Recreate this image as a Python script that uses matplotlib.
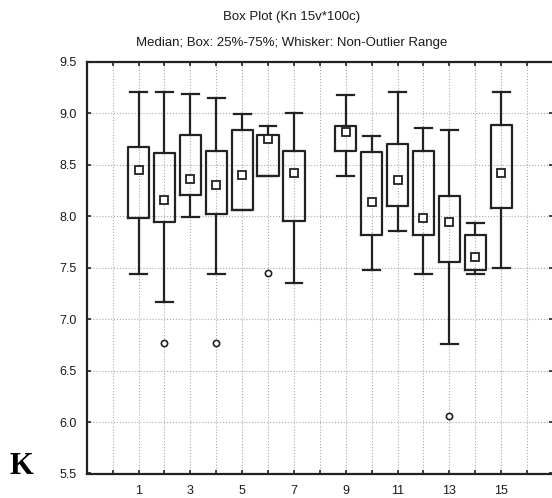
import matplotlib.pyplot as plt

plt.rcParams['font.family'] = ['Liberation Sans', 'DejaVu Sans']

positions = [1, 2, 3, 4, 5, 6, 7, 9, 10, 11, 12, 13, 14, 15]
q3 = [8.67, 8.615, 8.79, 8.635, 8.835, 8.79, 8.635, 8.875, 8.62, 8.70, 8.635, 8.195, 7.82, 8.885]
medians = [8.45, 8.155, 8.365, 8.30, 8.395, 8.745, 8.42, 8.82, 8.14, 8.355, 7.98, 7.94, 7.605, 8.42]
q1 = [7.98, 7.94, 8.205, 8.02, 8.06, 8.39, 7.95, 8.635, 7.82, 8.10, 7.82, 7.555, 7.475, 8.075]
whis_hi = [9.21, 9.21, 9.185, 9.15, 8.99, 8.875, 9.0, 9.18, 8.78, 9.21, 8.86, 8.835, 7.93, 9.21]
whis_lo = [7.435, 7.17, 7.99, 7.435, 8.06, 8.39, 7.355, 8.39, 7.475, 7.855, 7.435, 6.755, 7.435, 7.50]
outliers = [[], [6.765], [], [6.765], [], [7.45], [], [], [], [], [], [6.06], [], []]

xticks = [1, 3, 5, 7, 9, 11, 13, 15]
yticks = [5.5, 6.0, 6.5, 7.0, 7.5, 8.0, 8.5, 9.0, 9.5]

stats = []
for i in range(len(positions)):
    stats.append({'med': medians[i], 'q1': q1[i], 'q3': q3[i],
                  'whislo': whis_lo[i], 'whishi': whis_hi[i], 'fliers': outliers[i]})

fig = plt.figure(figsize=(5.52, 4.98), dpi=100)
ax = fig.add_axes([86.7 / 552, 24.5 / 498, (553 - 86.7) / 552, (473.5 - 61.7) / 498])

line_kw = dict(color='#222222', linewidth=1.6)
ax.bxp(stats, positions=positions, widths=0.82, capwidths=0.65,
       boxprops=line_kw, whiskerprops=line_kw, capprops=line_kw,
       medianprops=dict(linewidth=0),
       flierprops=dict(marker='o', markersize=4.5, markerfacecolor='white',
                       markeredgecolor='#222222', markeredgewidth=1.2),
       manage_ticks=False, zorder=3)
ax.plot(positions, medians, linestyle='none', marker='s', markersize=5.5,
        markerfacecolor='white', markeredgecolor='#222222', markeredgewidth=1.3, zorder=4)

ax.set_xlim(-1, 17)
ax.set_ylim(5.5, 9.5)
ax.set_xticks(range(0, 17), minor=True)
ax.set_xticks(xticks)
ax.set_yticks(yticks)
ax.set_yticklabels([f'{v:.1f}' for v in yticks])
ax.grid(True, which='both', axis='x', linestyle=':', color='#aaaaaa', linewidth=0.8)
ax.grid(True, which='major', axis='y', linestyle=':', color='#aaaaaa', linewidth=0.8)
ax.set_axisbelow(True)
ax.tick_params(which='both', direction='in', top=True, right=True, length=3,
               width=1.2, labelsize=9, colors='#222222', labelcolor='#1a1a1a')
ax.tick_params(axis='y', pad=7)
ax.tick_params(axis='x', which='major', pad=8)
for s in ax.spines.values():
    s.set_linewidth(1.6)
    s.set_color('#222222')

fig.text(292 / 552, 1 - 17 / 498, 'Box Plot (Kn 15v*100c)', ha='center', va='center',
         fontsize=9.5, color='#1a1a1a')
fig.text(292 / 552, 1 - 43 / 498, 'Median; Box: 25%-75%; Whisker: Non-Outlier Range',
         ha='center', va='center', fontsize=9.5, color='#1a1a1a')
fig.text(21 / 552, 1 - 466 / 498, 'K', ha='center', va='center', fontsize=22,
         fontweight='bold', family='Liberation Serif')

fig.savefig('out.png', dpi=100)
